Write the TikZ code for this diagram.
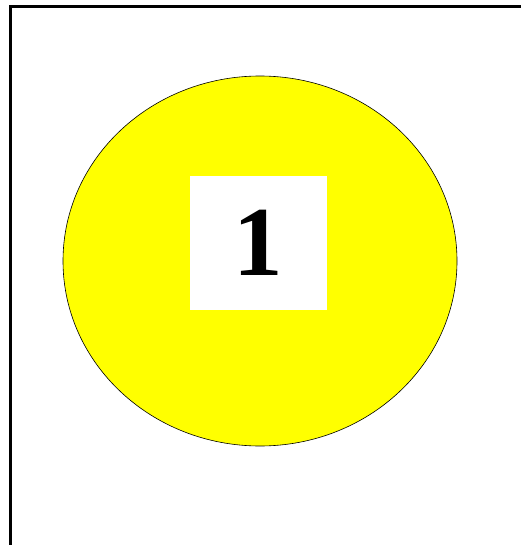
\documentclass[tikz,border=0pt]{standalone}
\usepackage{fontspec}
\setmainfont{Liberation Serif}
\usetikzlibrary{shapes.geometric, positioning}
\definecolor{CardYellow}{HTML}{FFFF00}

\begin{document}
\begin{tikzpicture}[x=1pt, y=-1pt,
    disc/.style={ellipse, draw=black, line width=0.6pt, fill=CardYellow, minimum width=394pt, minimum height=370pt, inner sep=0pt},
    numbox/.style={fill=white, minimum width=137pt, minimum height=134pt, inner sep=0pt, font=\fontsize{99}{99}\selectfont\bfseries}]
    % Fix page size
    \useasboundingbox (0,0) rectangle (521,545);

    % Outer frame (only left and top edges show)
    \draw[line width=3pt] (10.5,545) -- (10.5,6.5) -- (521,6.5);

    % Yellow disc and number card
    \node[disc] (disc) at (260,261) {};
    \node[numbox] (card) at (258.5,243) {1};
\end{tikzpicture}
\end{document}
